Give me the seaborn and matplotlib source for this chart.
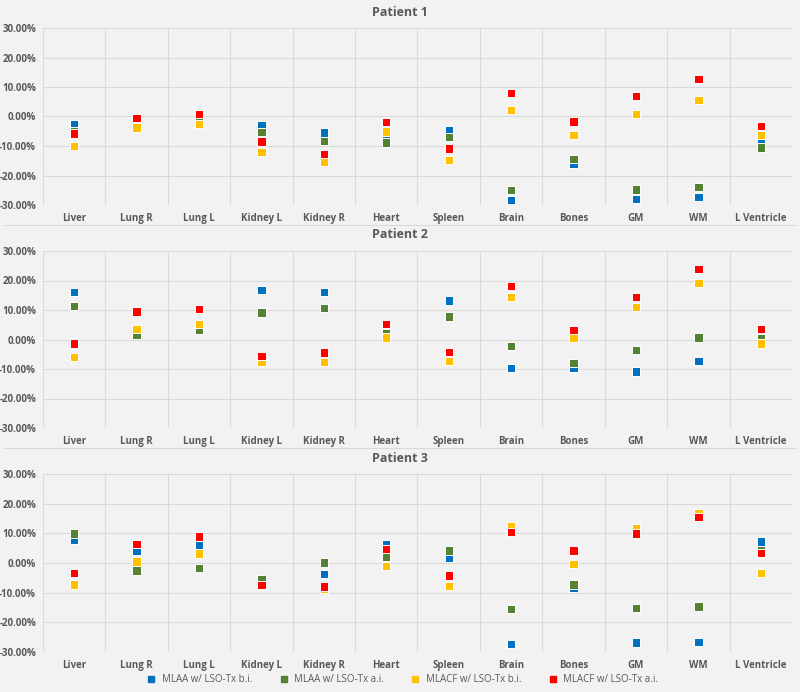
import numpy as np
import pandas as pd
import seaborn as sns
import matplotlib.pyplot as plt
from matplotlib.ticker import FuncFormatter, FixedLocator
from matplotlib.lines import Line2D

organs = ["Liver", "Lung R", "Lung L", "Kidney L", "Kidney R", "Heart",
          "Spleen", "Brain", "Bones", "GM", "WM", "L Ventricle"]
series = ["MLAA w/ LSO-Tx b.i.", "MLAA w/ LSO-Tx a.i.",
          "MLACF w/ LSO-Tx b.i.", "MLACF w/ LSO-Tx a.i."]
colors = ["#0070C0", "#548235", "#FFC000", "#FF0000"]

# Patient 1 (% values)
p1_mlaa_bi  = [-2.5, -2.0, -0.6, -2.8, -5.4, -7.0, -4.8, -28.3, -15.9, -27.9, -27.3, -8.5]
p1_mlaa_ai  = [-5.0, -2.2, -1.5, -5.3, -8.4, -8.8, -7.0, -25.0, -14.3, -24.7, -23.8, -10.5]
p1_mlacf_bi = [-9.9, -3.7, -2.6, -12.1, -15.3, -5.1, -14.8, 2.2, -6.2, 0.8, 5.5, -6.2]
p1_mlacf_ai = [-5.8, -0.6, 0.9, -8.5, -12.7, -1.9, -10.9, 8.0, -1.7, 7.0, 12.7, -3.2]

# Patient 2
p2_mlaa_bi  = [16.1, 2.2, 4.0, 16.7, 16.1, 2.9, 13.2, -9.7, -9.7, -10.9, -7.2, 0.7]
p2_mlaa_ai  = [11.4, 1.5, 3.2, 9.2, 10.7, 2.0, 7.8, -2.3, -7.9, -3.6, 0.7, 0.4]
p2_mlacf_bi = [-5.9, 3.6, 5.3, -7.7, -7.7, 0.7, -7.4, 14.5, 0.6, 11.0, 19.1, -1.4]
p2_mlacf_ai = [-1.4, 9.5, 10.3, -5.5, -4.4, 5.2, -4.2, 18.2, 3.3, 14.4, 23.9, 3.6]

# Patient 3
p3_mlaa_bi  = [7.9, 4.2, 6.0, -7.0, -3.8, 6.3, 1.6, -27.2, -8.5, -26.8, -26.7, 7.2]
p3_mlaa_ai  = [9.9, -2.5, -1.6, -5.6, 0.2, 2.1, 4.2, -15.6, -7.2, -15.2, -14.7, 4.2]
p3_mlacf_bi = [-7.2, 0.5, 3.2, -7.5, -8.6, -0.9, -7.7, 12.4, -0.3, 11.7, 16.9, -3.3]
p3_mlacf_ai = [-3.3, 6.3, 8.9, -7.4, -7.9, 4.8, -4.2, 10.5, 4.2, 10.0, 15.4, 3.4]

patients = {
    "Patient 1": [p1_mlaa_bi, p1_mlaa_ai, p1_mlacf_bi, p1_mlacf_ai],
    "Patient 2": [p2_mlaa_bi, p2_mlaa_ai, p2_mlacf_bi, p2_mlacf_ai],
    "Patient 3": [p3_mlaa_bi, p3_mlaa_ai, p3_mlacf_bi, p3_mlacf_ai],
}

sns.set_theme(style="white")
plt.rcParams['font.family'] = ['Open Sans', 'DejaVu Sans']

W, H = 800, 692
fig = plt.figure(figsize=(W / 100, H / 100), dpi=100)
bg = "#f2f2f2"
fig.patch.set_facecolor(bg)
txt = "#595959"
gridc = "#dadada"

panels = [(28, 205), (251, 428), (474, 652)]
left, right = 43, 792

for (name, vals), (top, bot) in zip(patients.items(), panels):
    ax = fig.add_axes([left / W, 1 - bot / H, (right - left) / W, (bot - top) / H])
    ax.set_facecolor(bg)
    rows = []
    for s, v in zip(series, vals):
        for o, val in zip(organs, v):
            rows.append({"organ": o, "series": s, "value": val / 100})
    df = pd.DataFrame(rows)
    sns.stripplot(data=df, x="organ", y="value", hue="series", order=organs,
                  hue_order=series, palette=colors, jitter=False, dodge=False,
                  marker="s", size=6.0, linewidth=0.7, edgecolor="white",
                  ax=ax, legend=False, zorder=3)
    ax.set_ylim(-0.30, 0.30)
    ax.set_xlim(-0.5, len(organs) - 0.5)
    ax.set_yticks(np.arange(-0.3, 0.31, 0.1))
    ax.yaxis.set_major_formatter(FuncFormatter(lambda v, p: f"{v*100:.2f}%"))
    ax.xaxis.set_minor_locator(FixedLocator(np.arange(-0.5, len(organs), 1.0)))
    ax.grid(axis="y", which="major", color=gridc, lw=0.8)
    ax.grid(axis="x", which="minor", color=gridc, lw=0.8)
    ax.grid(axis="x", which="major", visible=False)
    ax.set_axisbelow(True)
    for sp in ax.spines.values():
        sp.set_visible(False)
    ax.tick_params(axis="both", which="both", length=0, colors=txt)
    ax.tick_params(axis="y", labelsize=7, pad=5)
    ax.tick_params(axis="x", labelsize=7, pad=6)
    for lab in ax.get_xticklabels() + ax.get_yticklabels():
        lab.set_fontweight("bold")
        lab.set_color(txt)
    ax.set_xlabel("")
    ax.set_ylabel("")
    fig.text(0.5, 1 - (top - 16) / H, name, ha="center", va="center",
             fontsize=9, fontweight="bold", color=txt)

# panel separators
for y in [225, 448]:
    fig.add_artist(Line2D([0.005, 0.995], [1 - y / H, 1 - y / H],
                          color="#d9d9d9", lw=0.8))

handles = [Line2D([], [], marker="s", ls="", color=c, markersize=5) for c in colors]
fig.legend(handles, series, loc="center", bbox_to_anchor=(0.5, 1 - 680 / H),
           ncol=4, frameon=False, fontsize=7, handletextpad=0.1,
           columnspacing=2.2, labelcolor=txt)

fig.savefig("out.png", dpi=100, facecolor=bg)
